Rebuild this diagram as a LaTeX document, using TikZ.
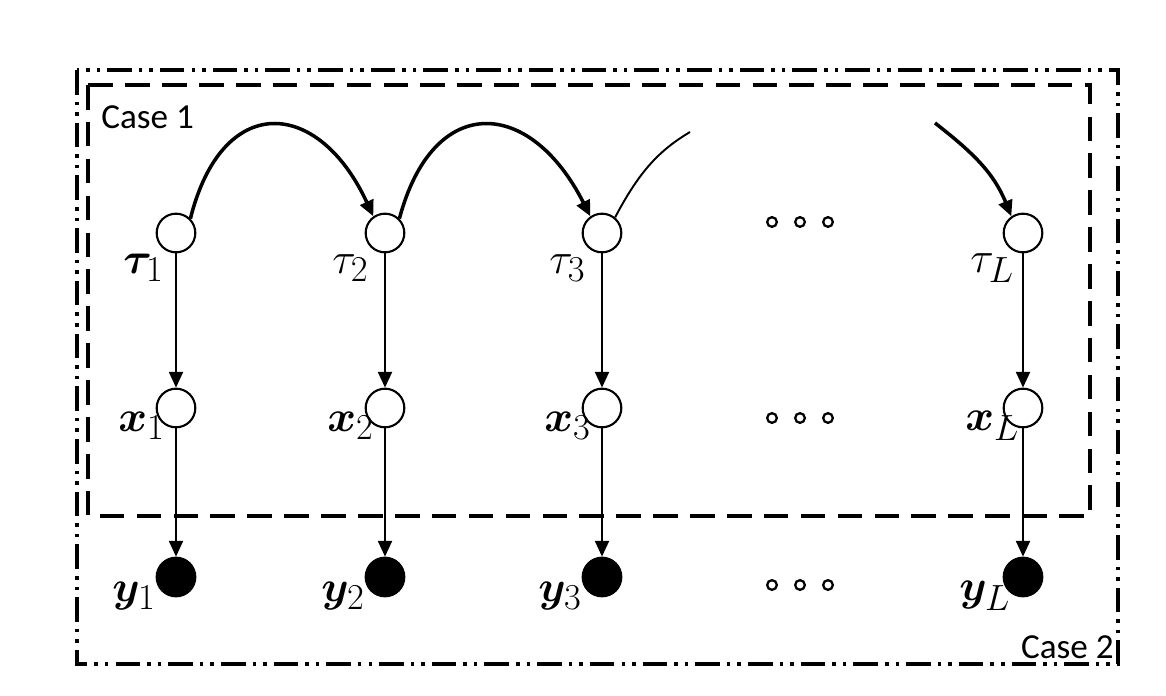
\documentclass[tikz,border=0pt]{standalone}
\usepackage{bm}
\usepackage{fontspec}
\newfontfamily\casefont{Carlito}
\usetikzlibrary{arrows.meta}

\begin{document}
\begin{tikzpicture}[x=0.02cm, y=-0.02cm,
	>={Triangle[length=9pt, width=8pt]},
	hidden/.style={circle, draw, line width=1.2pt, fill=white, minimum width=22pt, inner sep=0pt},
	observed/.style={circle, draw, line width=1.2pt, fill=black, minimum width=22pt, inner sep=0pt},
	lbl/.style={anchor=west, inner sep=0pt, font=\fontsize{32}{36}\selectfont},
	dot/.style={circle, draw, line width=1.3pt, minimum width=5.5pt, inner sep=0pt},
	edge/.style={->, line width=1.2pt},
	chain/.style={->, line width=2pt},
	casetext/.style={inner sep=0pt, font=\casefont\fontsize{20}{24}\selectfont}]
	\useasboundingbox (0, 0) rectangle (1166, 696);
	% boxes of the two cases
	\draw [line width=2.2pt, dash pattern=on 14pt off 4pt on 2pt off 4pt on 2pt off 4pt] (77, 70) rectangle (1118, 664);
	\draw [line width=2.2pt, dash pattern=on 14pt off 7pt] (88, 85) rectangle (1090, 516);
	\node [casetext, anchor=west] (case1) at (101, 117) {Case 1};
	\node [casetext, anchor=east] (case2) at (1114, 647) {Case 2};
	% columns
	\foreach \i/\xx/\tlab in {1/176/\bm{\tau}, 2/385/\tau, 3/602/\tau, L/1023/\tau} {
		\node [hidden] (t\i) at (\xx, 233) {};
		\node [hidden] (x\i) at (\xx, 408) {};
		\node [observed] (y\i) at (\xx, 577) {};
		\node [lbl] (lt\i) at (\xx-53, 268) {$\tlab_{\i}$};
		\node [lbl] (lx\i) at (\xx-58, 426) {$\bm{x}_{\i}$};
		\node [lbl] (ly\i) at (\xx-64, 596) {$\bm{y}_{\i}$};
		\draw [edge] (t\i) -- (x\i);
		\draw [edge] (x\i) -- (y\i);
	}
	% dots
	\foreach \r/\yy in {a/222, b/418, c/585} {
		\foreach \k/\xx in {1/772, 2/800, 3/828}
			\node [dot] (d\r\k) at (\xx, \yy) {};
	}
	% transitions
	\coordinate (out3) at (690, 132);
	\coordinate (inL) at (935, 123);
	\draw [chain] (t1.45) .. controls (222, 92) and (318, 97) .. (t2.125);
	\draw [chain] (t2.45) .. controls (433, 92) and (530, 97) .. (t3.125);
	\draw [line width=1.1pt] (t3.50) .. controls (640, 170) and (660, 150) .. (out3);
	\draw [chain] (inL) to [out=-38, in=112] (tL.125);
\end{tikzpicture}
\end{document}
